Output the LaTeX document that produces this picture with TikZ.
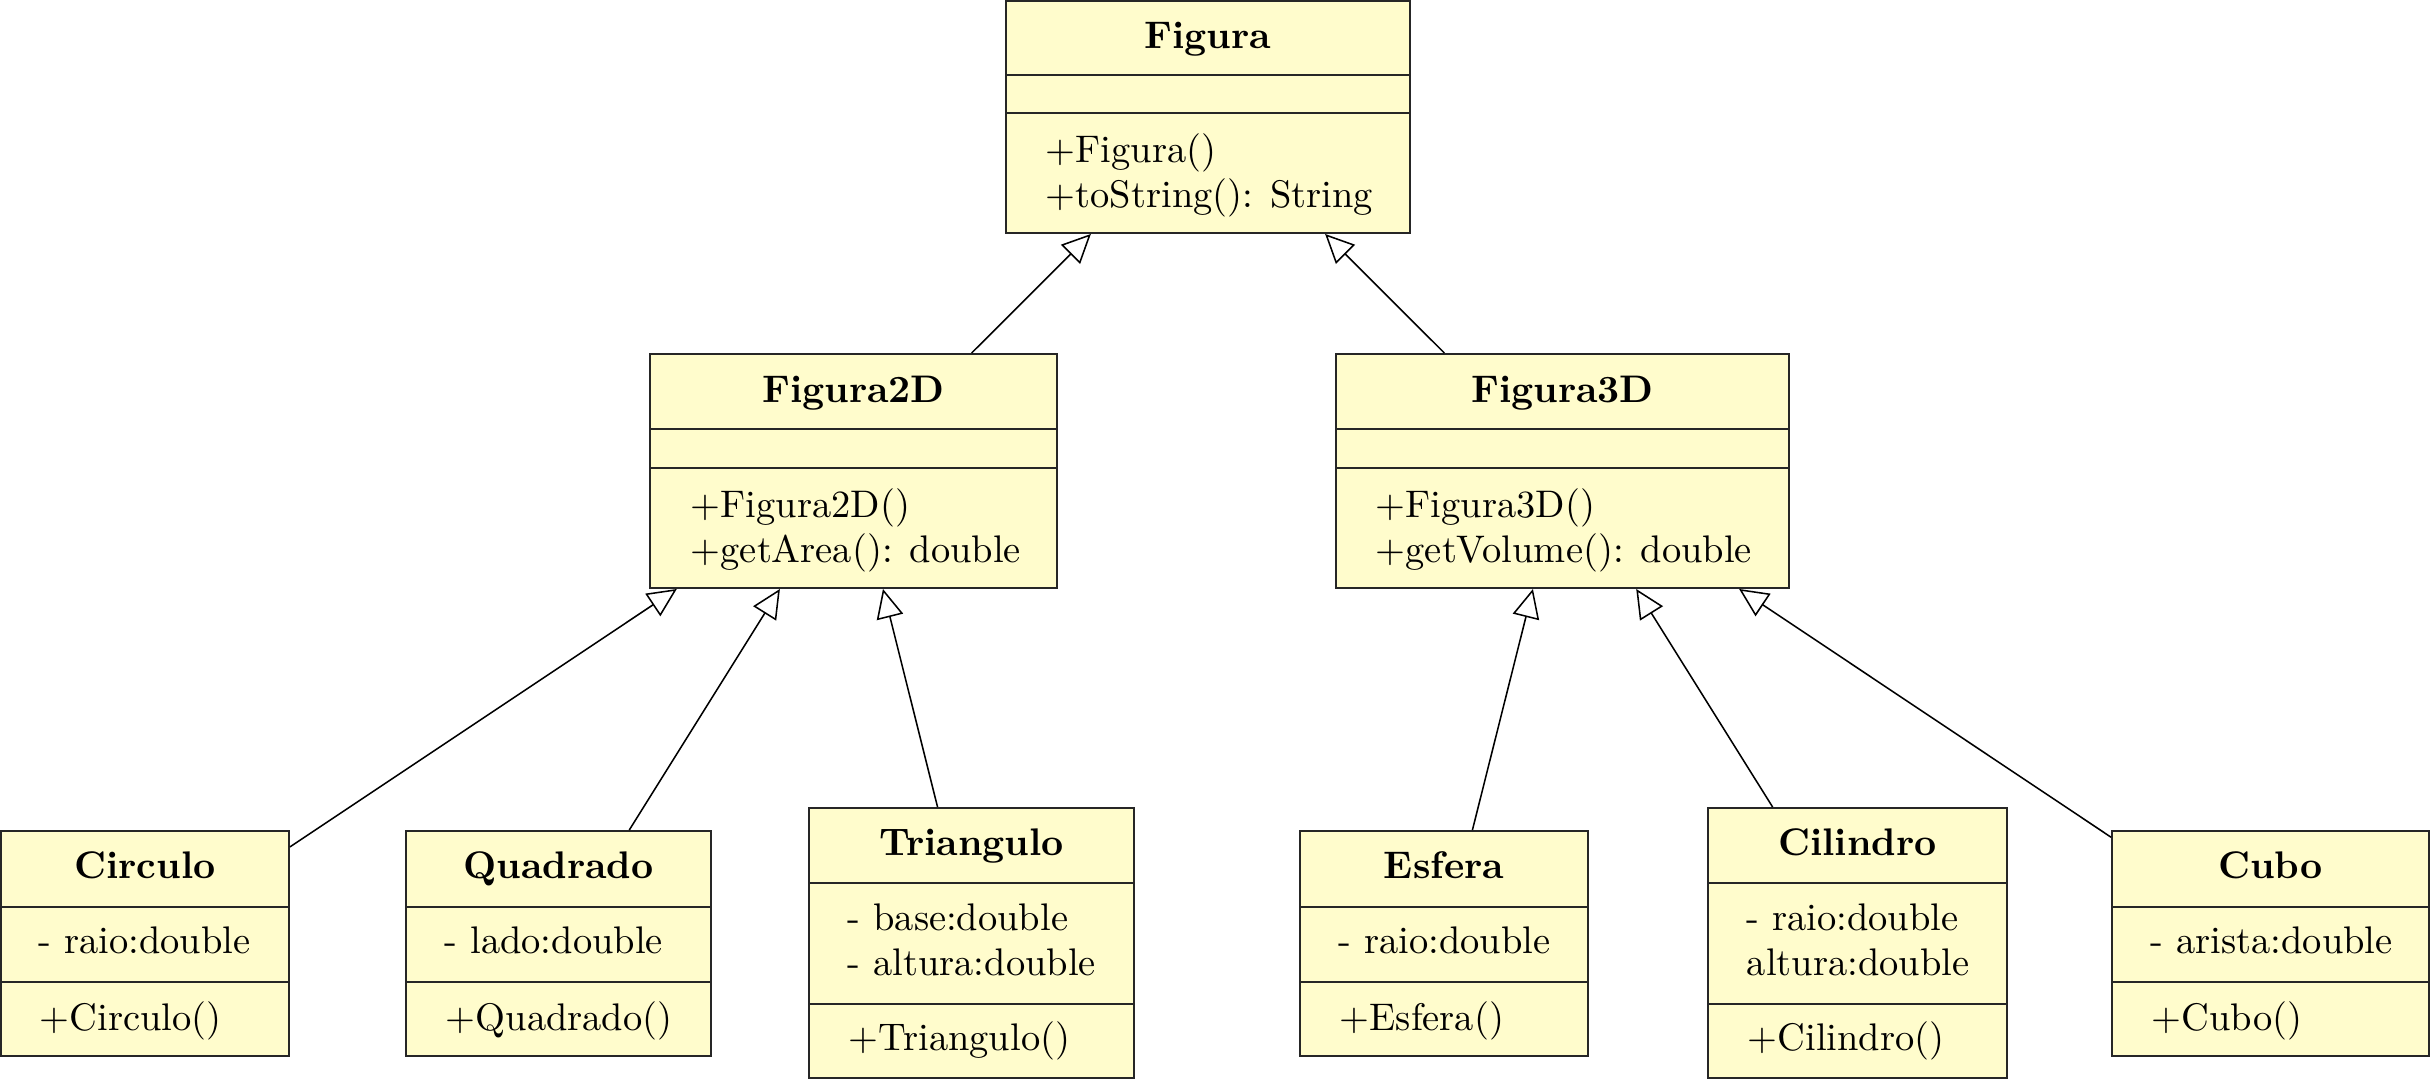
\documentclass[tikz,border=0pt]{standalone}
\usetikzlibrary{arrows.meta}
\def\pxu{0.26pt}
\tikzset{
  x=0.26pt, y=-0.26pt,
  clsbox/.style={draw=black!85, fill=yellow!20, line width=0.5pt, inner sep=0pt, rectangle},
  sepline/.style={draw=black!85, line width=0.5pt},
  clstitle/.style={anchor=base, inner sep=0pt, font=\bfseries},
  member/.style={anchor=base west, inner sep=0pt},
  inherit/.style={draw=black, line width=0.4pt, -{Triangle[open, length=7.5pt, width=7pt, fill=white]}},
}
% #1 name, #2 left, #3 top, #4 right, #5 bottom
\newcommand{\clsnode}[5]{%
  \node[clsbox, minimum width={(#4-#2)*\pxu}, minimum height={(#5-#3)*\pxu}] (#1) at ({(#2+#4)/2},{(#3+#5)/2}) {};}
% #1 name, #2 y
\newcommand{\clssep}[2]{\draw[sepline] (#1.west |- 0,#2) -- (#1.east |- 0,#2);}
\begin{document}
\begin{tikzpicture}
\useasboundingbox (0,0) rectangle (2431,1080);

% ---- Figura
\clsnode{fig}{1006}{1}{1410}{233}
\clssep{fig}{75}\clssep{fig}{113}
\node[clstitle] (figT) at (fig.center |- 0,48) {Figura};
\node[member] (figO1) at (1045,162) {+Figura()};
\node[member] (figO2) at (1045,207) {+toString(): String};

% ---- Figura2D
\clsnode{f2}{650}{354}{1057}{588}
\clssep{f2}{429}\clssep{f2}{468}
\node[clstitle] (f2T) at (f2.center |- 0,402) {Figura2D};
\node[member] (f2O1) at (690,517) {+Figura2D()};
\node[member] (f2O2) at (690,562) {+getArea(): double};

% ---- Figura3D
\clsnode{f3}{1336}{354}{1789}{588}
\clssep{f3}{429}\clssep{f3}{468}
\node[clstitle] (f3T) at (f3.center |- 0,402) {Figura3D};
\node[member] (f3O1) at (1375,517) {+Figura3D()};
\node[member] (f3O2) at (1375,562) {+getVolume(): double};

% ---- Circulo
\clsnode{cir}{1}{831}{289}{1056}
\clssep{cir}{907}\clssep{cir}{982}
\node[clstitle] (cirT) at (cir.center |- 0,878) {Circulo};
\node[member] (cirA1) at (38,953) {- raio:double};
\node[member] (cirO1) at (39,1030) {+Circulo()};

% ---- Quadrado
\clsnode{qua}{406}{831}{711}{1056}
\clssep{qua}{907}\clssep{qua}{982}
\node[clstitle] (quaT) at (qua.center |- 0,878) {Quadrado};
\node[member] (quaA1) at (444,953) {- lado:double};
\node[member] (quaO1) at (445,1030) {+Quadrado()};

% ---- Triangulo
\clsnode{tri}{809}{808}{1134}{1078}
\clssep{tri}{883}\clssep{tri}{1004}
\node[clstitle] (triT) at (tri.center |- 0,855) {Triangulo};
\node[member] (triA1) at (847,930) {- base:double};
\node[member] (triA2) at (847,975) {- altura:double};
\node[member] (triO1) at (848,1050) {+Triangulo()};

% ---- Esfera
\clsnode{esf}{1300}{831}{1588}{1056}
\clssep{esf}{907}\clssep{esf}{982}
\node[clstitle] (esfT) at (esf.center |- 0,878) {Esfera};
\node[member] (esfA1) at (1338,953) {- raio:double};
\node[member] (esfO1) at (1339,1030) {+Esfera()};

% ---- Cilindro
\clsnode{cil}{1708}{808}{2007}{1078}
\clssep{cil}{883}\clssep{cil}{1004}
\node[clstitle] (cilT) at (cil.center |- 0,855) {Cilindro};
\node[member] (cilA1) at (1746,930) {- raio:double};
\node[member] (cilA2) at (1746,975) {altura:double};
\node[member] (cilO1) at (1747,1050) {+Cilindro()};

% ---- Cubo
\clsnode{cub}{2112}{831}{2429}{1056}
\clssep{cub}{907}\clssep{cub}{982}
\node[clstitle] (cubT) at (cub.center |- 0,878) {Cubo};
\node[member] (cubA1) at (2150,953) {- arista:double};
\node[member] (cubO1) at (2151,1030) {+Cubo()};

% ---- inheritance
\draw[inherit] (f2) -- (fig);
\draw[inherit] (f3) -- (fig);
\draw[inherit] (cir) -- (f2);
\draw[inherit] (qua) -- (f2);
\draw[inherit] (tri) -- (f2);
\draw[inherit] (esf) -- (f3);
\draw[inherit] (cil) -- (f3);
\draw[inherit] (cub) -- (f3);
\end{tikzpicture}
\end{document}
